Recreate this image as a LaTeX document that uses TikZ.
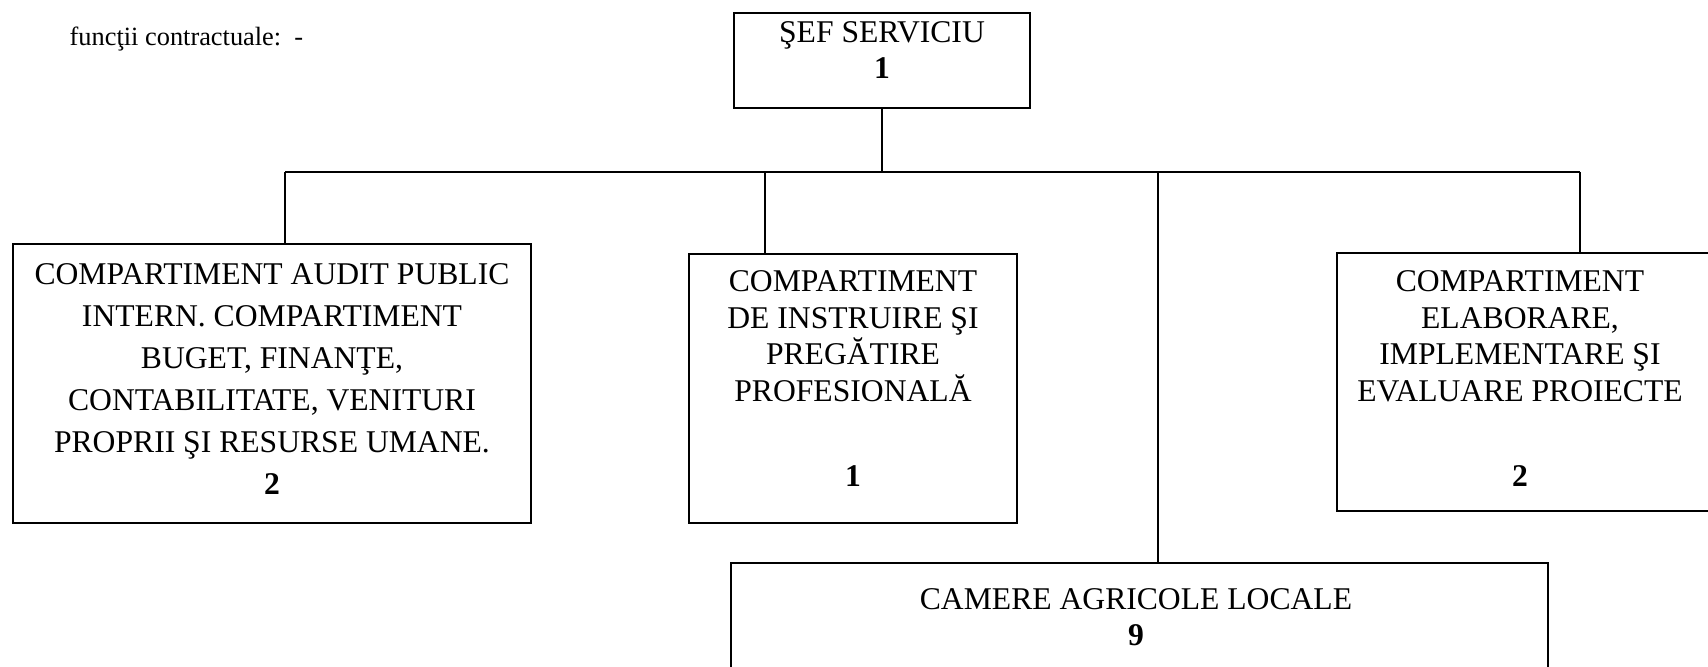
\documentclass[tikz,border=0pt]{standalone}
\usepackage{fontspec}
\setmainfont{Liberation Serif}
\begin{document}
\begin{tikzpicture}[
  box/.style={draw, line width=0.7pt, inner sep=0pt},
  txt/.style={align=center, inner sep=0pt, font=\fontsize{9}{10.4}\selectfont},
  link/.style={-, line width=0.7pt}
]
\useasboundingbox (0,0) rectangle (17.08,-6.67);
 % header note
 \node[anchor=west, inner sep=0pt, font=\fontsize{7.5}{9}\selectfont] (note) at (0.69,-0.39) {funcţii contractuale:\ \ -};
 %
 \node[box, minimum width=2.96cm, minimum height=0.95cm] (sef) at (8.82,-0.605) {};
 \node[box, minimum width=5.18cm, minimum height=2.79cm] (audit) at (2.72,-3.835) {};
 \node[box, minimum width=3.28cm, minimum height=2.69cm] (instr) at (8.53,-3.885) {};
 \node[box, minimum width=3.73cm, minimum height=2.58cm] (proiect) at (15.235,-3.82) {};
 \node[box, minimum width=8.17cm, minimum height=1.30cm] (camere) at (11.395,-6.28) {};
 %
 \node[txt] (sef-t) at (8.82,-0.50) {ŞEF SERVICIU\\ \textbf{1}};
 \node[txt, font=\fontsize{9}{11.9}\selectfont] (audit-t) at (2.72,-3.79) {COMPARTIMENT AUDIT PUBLIC\\ INTERN. COMPARTIMENT\\ BUGET, FINANŢE,\\ CONTABILITATE, VENITURI\\ PROPRII ŞI RESURSE UMANE.\\ \textbf{2}};
 \node[txt] (instr-t) at (8.53,-3.785) {COMPARTIMENT\\ DE INSTRUIRE ŞI\\ PREGĂTIRE\\ PROFESIONALĂ\\[13.8pt] \textbf{1}};
 \node[txt] (proiect-t) at (15.20,-3.785) {COMPARTIMENT\\ ELABORARE,\\ IMPLEMENTARE ŞI\\ EVALUARE PROIECTE\\[13.8pt] \textbf{2}};
 \node[txt] (camere-t) at (11.36,-6.17) {CAMERE AGRICOLE LOCALE\\ \textbf{9}};
 %
 \coordinate (b1) at (2.85,-1.72);
 \coordinate (b2) at (7.65,-1.72);
 \coordinate (b3) at (11.58,-1.72);
 \coordinate (b4) at (15.80,-1.72);
 %
 \draw[link] (b1) -- (b4);
 \draw[link] (sef.south) -- (sef.south |- b1);
 \draw[link] (b1) -- (b1 |- audit.north);
 \draw[link] (b2) -- (b2 |- instr.north);
 \draw[link] (b3) -- (b3 |- camere.north);
 \draw[link] (b4) -- (b4 |- proiect.north);
\end{tikzpicture}
\end{document}
